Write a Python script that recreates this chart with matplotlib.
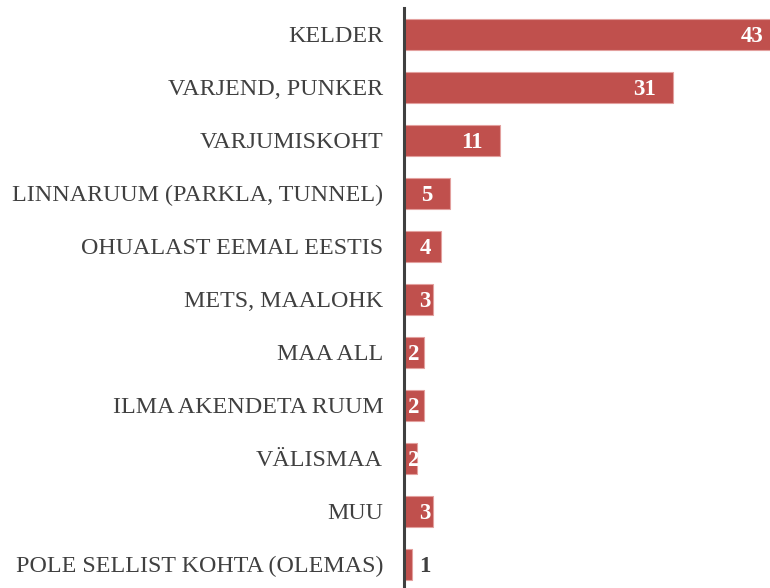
import matplotlib
matplotlib.use("Agg")
import matplotlib.pyplot as plt

plt.rcParams['font.family'] = ['Liberation Serif', 'DejaVu Serif']

# andmed
kohad = [
    "KELDER",
    "VARJEND, PUNKER",
    "VARJUMISKOHT",
    "LINNARUUM (PARKLA, TUNNEL)",
    "OHUALAST EEMAL EESTIS",
    "METS, MAALOHK",
    "MAA ALL",
    "ILMA AKENDETA RUUM",
    "VÄLISMAA",
    "MUU",
    "POLE SELLIST KOHTA (OLEMAS)",
]
vaartused = [43.5, 31.0, 11.1, 5.3, 4.3, 3.3, 2.3, 2.3, 1.5, 3.3, 0.9]
sildid = [43, 31, 11, 5, 4, 3, 2, 2, 2, 3, 1]

bar_color = '#C0504D'
edge_color = '#E3A09E'
dark = '#404040'

fig = plt.figure(figsize=(7.7, 5.88), dpi=100)
ax = fig.add_axes([404 / 770, 0.0, 1 - 404 / 770, 580 / 588])

y = list(range(len(kohad)))
ax.barh(y, vaartused, height=0.59, color=bar_color, edgecolor=edge_color,
        linewidth=0.8, zorder=2)

for yi, v, s in zip(y, vaartused, sildid):
    if v >= 2.5:
        x = max(v - 2.0, 3.1)
    elif v >= 1:
        x = 1.8
    else:
        x = 3.1
    col = 'white' if v >= 1 else dark
    ax.text(x, yi, str(s), ha='right', va='center_baseline', color=col,
            fontsize=16.5, fontweight='bold', zorder=3)

ax.set_xlim(0, 42.2)
ax.set_ylim(10.45, -0.5)
ax.set_yticks(y)
ax.set_yticklabels(kohad, fontsize=17.3, color=dark)
ax.tick_params(axis='y', length=0, pad=15)
ax.set_xticks([])

for side in ['top', 'right', 'bottom']:
    ax.spines[side].set_visible(False)
ax.spines['left'].set_color(dark)
ax.spines['left'].set_linewidth(2.2)
ax.spines['left'].set_zorder(4)

fig.savefig('out.png', dpi=100)
